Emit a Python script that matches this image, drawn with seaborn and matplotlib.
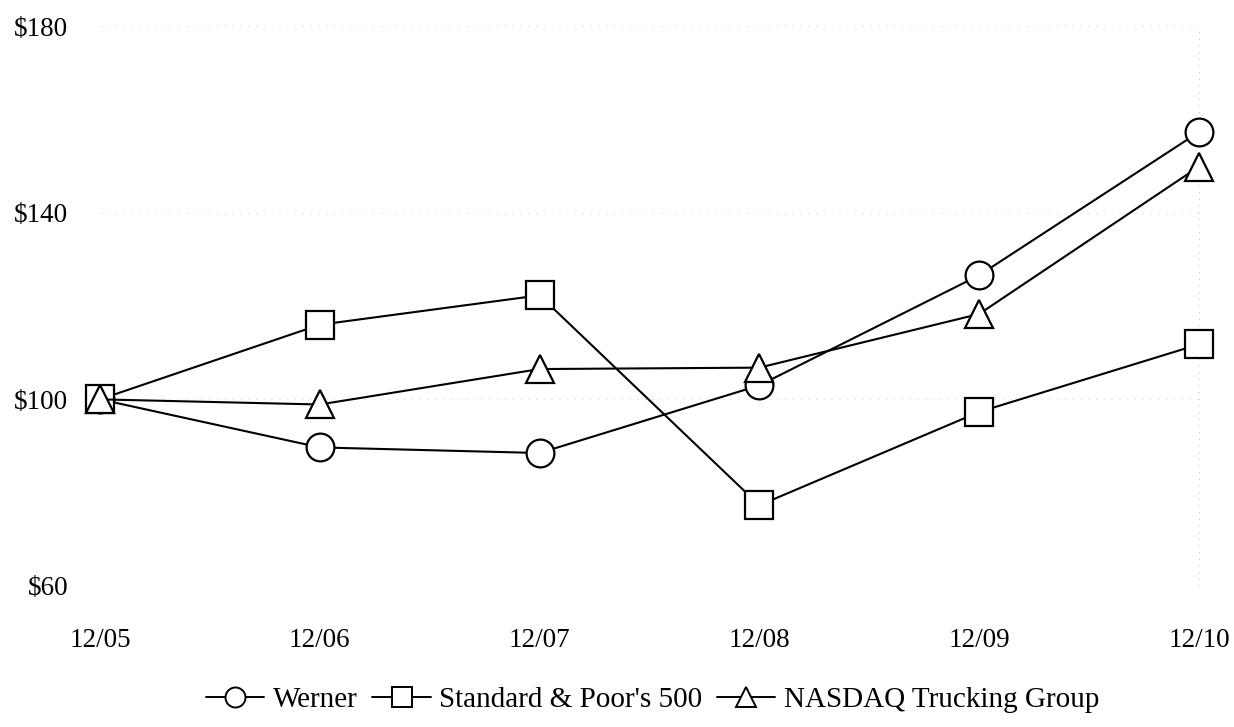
import pandas as pd
import seaborn as sns
import matplotlib.pyplot as plt
from matplotlib.lines import Line2D

# cumulative total return
years = ['12/05', '12/06', '12/07', '12/08', '12/09', '12/10']
werner = [100, 89.7, 88.5, 103.0, 126.6, 157.3]
sp500 = [100, 116.0, 122.3, 77.3, 97.3, 111.8]
nasdaq_trucking = [100, 98.9, 106.5, 106.8, 118.3, 149.9]
series_names = ['Werner', "Standard & Poor's 500", 'NASDAQ Trucking Group']
y_ticks = [60, 100, 140, 180]

rows = []
for name, vals in zip(series_names, [werner, sp500, nasdaq_trucking]):
    for i, v in enumerate(vals):
        rows.append({'x': i, 'value': v, 'series': name})
df = pd.DataFrame(rows)

sns.set_theme(style='white')
plt.rcParams['font.family'] = ['Liberation Serif', 'DejaVu Serif']
plt.rcParams['text.color'] = 'black'
plt.rcParams['xtick.color'] = 'black'
plt.rcParams['ytick.color'] = 'black'

fig = plt.figure(figsize=(12.34, 7.27), dpi=100)
ax = fig.add_axes([0.081, 0.194, 0.8906, 0.770])

# faint dotted grid like the scan
for yv in [100, 140, 180]:
    ax.axhline(yv, color='#d8d8d8', lw=0.8, ls=(0, (1, 6)), zorder=0)
ax.axvline(5, color='#c8c8c8', lw=0.8, ls=(0, (1, 5)), zorder=0)

markers = {'Werner': 'o', "Standard & Poor's 500": 's', 'NASDAQ Trucking Group': '^'}
palette = {n: 'black' for n in series_names}
sns.lineplot(data=df, x='x', y='value', hue='series', style='series',
             markers=markers, dashes=False, palette=palette, ax=ax,
             markersize=20, markerfacecolor='white', markeredgecolor='black',
             mew=1.6, lw=1.5, legend=False)
for ln in ax.lines:
    ln.set_clip_on(False)

ax.set_xlim(0, 5)
ax.set_ylim(60, 180)
ax.set_xticks(range(len(years)))
ax.set_xticklabels(years)
ax.set_yticks(y_ticks)
ax.set_yticklabels([f'${v}' for v in y_ticks])
ax.tick_params(axis='x', length=0, pad=30, labelsize=19.5, labelcolor='black')
ax.tick_params(axis='y', length=0, pad=23, labelsize=19.5, labelcolor='black')
ax.set_xlabel('')
ax.set_ylabel('')
for s in ax.spines.values():
    s.set_visible(False)

handles = [Line2D([], [], color='black', lw=1.4, marker=markers[n], markersize=14.4,
                  markerfacecolor='white', markeredgecolor='black', mew=1.4)
           for n in series_names]
leg = fig.legend(handles, series_names, loc='center', bbox_to_anchor=(0.529, 0.037),
                 ncol=3, frameon=False, fontsize=21, handlelength=2.0,
                 handletextpad=0.3, columnspacing=0.5)
for t in leg.get_texts():
    t.set_color('black')

fig.savefig('out.png', dpi=100)
